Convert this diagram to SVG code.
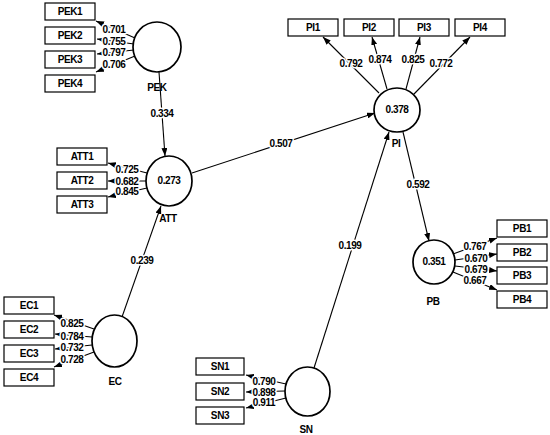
<svg xmlns="http://www.w3.org/2000/svg" width="550" height="435" viewBox="0 0 550 435">
<style>
text{font-family:"Liberation Sans",Arial,sans-serif;font-weight:bold;font-size:10px;letter-spacing:-0.4px;fill:#000;text-anchor:middle}
.box{fill:#fff;stroke:#000;stroke-width:1.2}
.lv{fill:#fff;stroke:#000;stroke-width:1.7}
.ln{stroke:#000;stroke-width:1.1;fill:none;marker-end:url(#ah)}
.w{stroke:#fff;stroke-width:3;paint-order:stroke;stroke-linejoin:round}
</style>
<defs>
<marker id="ah" markerUnits="userSpaceOnUse" markerWidth="8" markerHeight="6" refX="8" refY="3" orient="auto">
<path d="M0,0 L8,3 L0,6 z" fill="#000"/>
</marker>
</defs>
<rect width="550" height="435" fill="#fff"/>
<g id="connectors">
<line class="ln" x1="159" y1="72" x2="165" y2="156"/>
<line class="ln" x1="192" y1="173" x2="375" y2="113"/>
<line class="ln" x1="122" y1="317" x2="161" y2="206"/>
<line class="ln" x1="314" y1="368" x2="389" y2="132"/>
<line class="ln" x1="403" y1="132" x2="429" y2="241"/>
<line class="ln" x1="135" y1="38" x2="96" y2="21"/>
<line class="ln" x1="134" y1="44" x2="97" y2="39"/>
<line class="ln" x1="134" y1="50" x2="97" y2="54"/>
<line class="ln" x1="135" y1="56" x2="96" y2="72"/>
<line class="ln" x1="147" y1="173" x2="108" y2="163"/>
<line class="ln" x1="146" y1="181" x2="108" y2="181"/>
<line class="ln" x1="147" y1="188" x2="108" y2="197"/>
<line class="ln" x1="94" y1="329" x2="54" y2="315"/>
<line class="ln" x1="92" y1="337" x2="55" y2="334"/>
<line class="ln" x1="92" y1="345" x2="55" y2="349"/>
<line class="ln" x1="94" y1="352" x2="54" y2="367"/>
<line class="ln" x1="286" y1="384" x2="246" y2="375"/>
<line class="ln" x1="285" y1="391" x2="246" y2="392"/>
<line class="ln" x1="286" y1="398" x2="246" y2="408"/>
<line class="ln" x1="379" y1="93" x2="323" y2="37"/>
<line class="ln" x1="387" y1="89" x2="372" y2="37"/>
<line class="ln" x1="406" y1="89" x2="420" y2="37"/>
<line class="ln" x1="414" y1="94" x2="470" y2="37"/>
<line class="ln" x1="453" y1="254" x2="497" y2="238"/>
<line class="ln" x1="455" y1="260" x2="497" y2="254"/>
<line class="ln" x1="455" y1="266" x2="497" y2="271"/>
<line class="ln" x1="453" y1="272" x2="497" y2="290"/>
<text class="w" x="162" y="117">0.334</text>
<text class="w" x="281" y="147">0.507</text>
<text class="w" x="142" y="264">0.239</text>
<text class="w" x="350" y="249">0.199</text>
<text class="w" x="418" y="188">0.592</text>
<text class="w" x="114" y="33">0.701</text>
<text class="w" x="114" y="45">0.755</text>
<text class="w" x="114" y="56">0.797</text>
<text class="w" x="114" y="68">0.706</text>
<text class="w" x="127" y="173">0.725</text>
<text class="w" x="127" y="185">0.682</text>
<text class="w" x="127" y="195">0.845</text>
<text class="w" x="72" y="327">0.825</text>
<text class="w" x="72" y="340">0.784</text>
<text class="w" x="72" y="351">0.732</text>
<text class="w" x="72" y="363">0.728</text>
<text class="w" x="264" y="385">0.790</text>
<text class="w" x="264" y="396">0.898</text>
<text class="w" x="264" y="406">0.911</text>
<text class="w" x="351" y="67">0.792</text>
<text class="w" x="380" y="63">0.874</text>
<text class="w" x="413" y="63">0.825</text>
<text class="w" x="441" y="67">0.772</text>
<text class="w" x="475" y="250">0.767</text>
<text class="w" x="476" y="262">0.670</text>
<text class="w" x="476" y="273">0.679</text>
<text class="w" x="475" y="284">0.667</text>
</g>
<g id="PEK">
<ellipse class="lv" cx="157" cy="47" rx="24" ry="25"/>
<text x="157" y="91">PEK</text>
</g>
<g id="PEK1"><rect class="box" x="45" y="3" width="50" height="17"/><text x="70" y="15">PEK1</text></g>
<g id="PEK2"><rect class="box" x="45" y="27" width="50" height="17"/><text x="70" y="39">PEK2</text></g>
<g id="PEK3"><rect class="box" x="45" y="51" width="50" height="17"/><text x="70" y="63">PEK3</text></g>
<g id="PEK4"><rect class="box" x="45" y="75" width="50" height="17"/><text x="70" y="87">PEK4</text></g>
<g id="ATT">
<ellipse class="lv" cx="169" cy="181" rx="23" ry="25"/>
<text x="169" y="184">0.273</text>
<text x="168" y="222">ATT</text>
</g>
<g id="ATT1"><rect class="box" x="57" y="148" width="50" height="17"/><text x="82" y="160">ATT1</text></g>
<g id="ATT2"><rect class="box" x="57" y="172" width="50" height="17"/><text x="82" y="184">ATT2</text></g>
<g id="ATT3"><rect class="box" x="57" y="196" width="50" height="17"/><text x="82" y="208">ATT3</text></g>
<g id="EC">
<ellipse class="lv" cx="114.5" cy="341" rx="22.5" ry="26"/>
<text x="115" y="385">EC</text>
</g>
<g id="EC1"><rect class="box" x="4" y="297" width="50" height="17"/><text x="29" y="309">EC1</text></g>
<g id="EC2"><rect class="box" x="4" y="321" width="50" height="17"/><text x="29" y="333">EC2</text></g>
<g id="EC3"><rect class="box" x="4" y="345" width="50" height="17"/><text x="29" y="357">EC3</text></g>
<g id="EC4"><rect class="box" x="4" y="369" width="50" height="17"/><text x="29" y="381">EC4</text></g>
<g id="SN">
<ellipse class="lv" cx="307.5" cy="391.5" rx="22.5" ry="24.5"/>
<text x="306" y="433">SN</text>
</g>
<g id="SN1"><rect class="box" x="196" y="358" width="48" height="17"/><text x="220" y="370">SN1</text></g>
<g id="SN2"><rect class="box" x="196" y="383" width="48" height="17"/><text x="220" y="395">SN2</text></g>
<g id="SN3"><rect class="box" x="196" y="407" width="48" height="17"/><text x="220" y="419">SN3</text></g>
<g id="PI">
<ellipse class="lv" cx="397" cy="110" rx="23" ry="22"/>
<text x="397" y="113">0.378</text>
<text x="396" y="147">PI</text>
</g>
<g id="PI1"><rect class="box" x="288" y="19" width="50" height="17"/><text x="313" y="31">PI1</text></g>
<g id="PI2"><rect class="box" x="344" y="19" width="50" height="17"/><text x="369" y="31">PI2</text></g>
<g id="PI3"><rect class="box" x="399" y="19" width="50" height="17"/><text x="424" y="31">PI3</text></g>
<g id="PI4"><rect class="box" x="455" y="19" width="50" height="17"/><text x="480" y="31">PI4</text></g>
<g id="PB">
<ellipse class="lv" cx="434" cy="262" rx="21" ry="22"/>
<text x="434" y="265">0.351</text>
<text x="433" y="305">PB</text>
</g>
<g id="PB1"><rect class="box" x="497" y="220" width="50" height="17"/><text x="522" y="232">PB1</text></g>
<g id="PB2"><rect class="box" x="497" y="244" width="50" height="17"/><text x="522" y="256">PB2</text></g>
<g id="PB3"><rect class="box" x="497" y="267" width="50" height="17"/><text x="522" y="279">PB3</text></g>
<g id="PB4"><rect class="box" x="497" y="291" width="50" height="17"/><text x="522" y="303">PB4</text></g>
</svg>
